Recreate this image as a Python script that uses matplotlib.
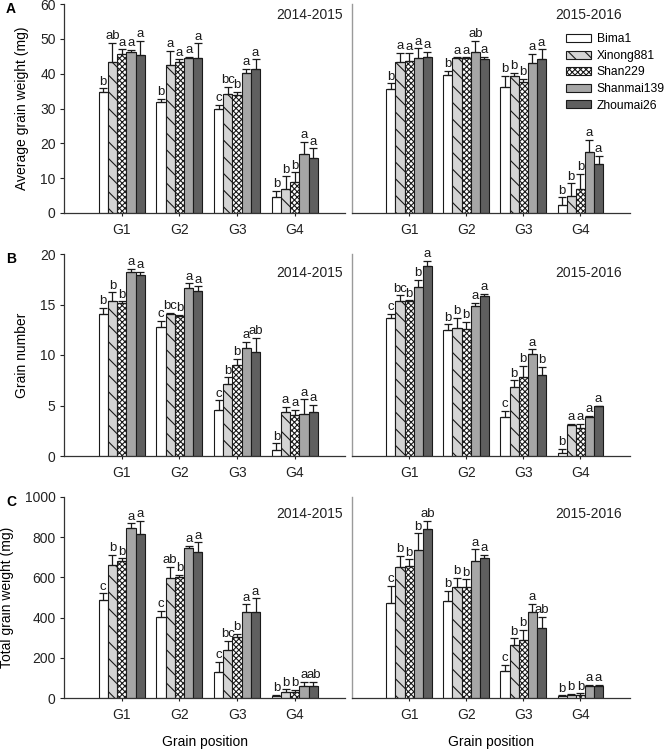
import numpy as np
import matplotlib
matplotlib.use("Agg")
import matplotlib.pyplot as plt

plt.rcParams['font.family'] = ['Liberation Sans', 'DejaVu Sans']
plt.rcParams['hatch.linewidth'] = 0.8

cultivars = ["Bima1", "Xinong881", "Shan229", "Shanmai139", "Zhoumai26"]
positions = ["G1", "G2", "G3", "G4"]
seasons = ["2014-2015", "2015-2016"]

# ---- A: average grain weight (mg); rows = cultivars, cols = G1..G4
agw_1415 = [[34.8, 31.8, 29.9, 4.5],
            [43.4, 42.5, 34.1, 7.0],
            [45.6, 43.4, 33.9, 9.0],
            [46.3, 44.6, 40.1, 16.9],
            [45.4, 44.6, 41.3, 15.7]]
agw_1415_err = [[1.0, 0.9, 1.1, 1.8],
                [5.5, 4.1, 2.2, 3.5],
                [1.4, 0.7, 0.9, 2.7],
                [0.5, 0.3, 1.2, 3.6],
                [4.1, 4.1, 2.8, 2.9]]
agw_1415_sig = [["b", "b", "c", "b"],
                ["ab", "a", "bc", "b"],
                ["a", "a", "b", "b"],
                ["a", "a", "a", "a"],
                ["a", "a", "a", "a"]]
agw_1516 = [[35.5, 39.6, 36.3, 2.3],
            [43.4, 44.4, 39.3, 5.0],
            [43.7, 44.4, 37.7, 7.0],
            [44.4, 46.1, 43.2, 17.5],
            [44.9, 44.1, 44.1, 14.0]]
agw_1516_err = [[1.7, 1.2, 3.0, 2.2],
                [2.6, 0.3, 1.0, 3.5],
                [2.1, 0.3, 0.8, 4.2],
                [2.9, 3.4, 2.4, 3.5],
                [1.4, 0.8, 2.9, 2.4]]
agw_1516_sig = [["b", "b", "b", "b"],
                ["a", "a", "b", "b"],
                ["a", "a", "b", "b"],
                ["a", "ab", "a", "a"],
                ["a", "a", "a", "a"]]

# ---- B: grain number
gn_1415 = [[14.1, 12.8, 4.6, 0.6],
           [15.3, 14.1, 7.1, 4.4],
           [15.1, 13.9, 9.0, 4.1],
           [18.2, 16.6, 10.7, 4.2],
           [17.9, 16.3, 10.3, 4.4]]
gn_1415_err = [[0.6, 0.6, 0.9, 0.65],
               [0.9, 0.1, 0.7, 0.5],
               [0.2, 0.1, 0.6, 0.5],
               [0.3, 0.5, 0.6, 1.4],
               [0.3, 0.5, 1.4, 0.65]]
gn_1415_sig = [["b", "c", "c", "b"],
               ["b", "bc", "b", "a"],
               ["b", "b", "b", "a"],
               ["a", "a", "a", "a"],
               ["a", "a", "ab", "a"]]
gn_1516 = [[13.7, 12.5, 3.9, 0.3],
           [15.3, 12.7, 6.8, 3.1],
           [15.3, 12.6, 7.85, 2.8],
           [16.7, 14.85, 10.1, 3.9],
           [18.8, 15.8, 8.0, 4.95]]
gn_1516_err = [[0.4, 0.55, 0.6, 0.4],
               [0.6, 1.0, 0.7, 0.05],
               [0.1, 0.65, 1.05, 0.4],
               [0.75, 0.3, 0.45, 0.05],
               [0.5, 0.25, 0.8, 0.05]]
gn_1516_sig = [["c", "b", "c", "b"],
               ["bc", "b", "b", "a"],
               ["b", "b", "b", "a"],
               ["b", "a", "a", "a"],
               ["a", "a", "b", "a"]]

# ---- C: total grain weight (mg)
tgw_1415 = [[487, 405, 131, 12],
            [662, 599, 239, 32],
            [683, 602, 302, 32],
            [844, 745, 426, 62],
            [814, 728, 426, 62]]
tgw_1415_err = [[34, 30, 50, 5],
                [50, 53, 47, 11],
                [12, 12, 17, 10],
                [25, 12, 40, 20],
                [67, 47, 70, 20]]
tgw_1415_sig = [["c", "c", "c", "b"],
                ["b", "ab", "bc", "b"],
                ["b", "b", "b", "b"],
                ["a", "a", "a", "a"],
                ["a", "a", "a", "ab"]]
tgw_1516 = [[474, 484, 136, 8],
            [653, 554, 264, 14],
            [657, 554, 289, 15],
            [736, 683, 429, 62],
            [839, 695, 347, 62]]
tgw_1516_err = [[83, 48, 28, 5],
                [53, 45, 33, 6],
                [33, 37, 50, 8],
                [83, 56, 38, 3],
                [43, 16, 58, 2]]
tgw_1516_sig = [["c", "b", "c", "b"],
                ["b", "b", "b", "b"],
                ["b", "b", "b", "b"],
                ["b", "a", "a", "a"],
                ["ab", "a", "ab", "a"]]

ylabels = ["Average grain weight (mg)", "Grain number", "Total grain weight (mg)"]
yticks_list = [[0, 10, 20, 30, 40, 50, 60], [0, 5, 10, 15, 20], [0, 200, 400, 600, 800, 1000]]
panel_letters = ["A", "B", "C"]

# styles
facecolors = ["white", "#d4d4d4", "white", "#a6a6a6", "#5f5f5f"]
hatches = [None, "\\\\", "xxxxxx", None, None]

W, H = 667, 753
fig = plt.figure(figsize=(W / 100, H / 100), dpi=100)

def rect(x0, x1, yt, yb):
    return [x0 / W, 1 - yb / H, (x1 - x0) / W, (yb - yt) / H]

rows_px = [(4, 213), (254, 456), (497, 698)]
cols_px = [(64, 345), (352, 630)]
year_pos = [[(0.993, 0.945), (0.972, 0.945)],
            [(0.993, 0.905), (0.972, 0.905)],
            [(0.993, 0.915), (0.972, 0.915)]]

data = [[(agw_1415, agw_1415_err, agw_1415_sig), (agw_1516, agw_1516_err, agw_1516_sig)],
        [(gn_1415, gn_1415_err, gn_1415_sig), (gn_1516, gn_1516_err, gn_1516_sig)],
        [(tgw_1415, tgw_1415_err, tgw_1415_sig), (tgw_1516, tgw_1516_err, tgw_1516_sig)]]

bw = 0.16
x = np.arange(len(positions))
legend_handles = None
for r in range(3):
    yt, yb = rows_px[r]
    for c in range(2):
        x0, x1 = cols_px[c]
        ax = fig.add_axes(rect(x0, x1, yt, yb))
        vals, errs, sigs = data[r][c]
        handles = []
        for i in range(len(cultivars)):
            xi = x + (i - 2) * bw
            v = np.array(vals[i], dtype=float)
            e = np.array(errs[i], dtype=float)
            b = ax.bar(xi, v, width=bw, color=facecolors[i], edgecolor="#1a1a1a",
                       linewidth=0.8, hatch=hatches[i], zorder=2)
            handles.append(b)
            ax.errorbar(xi, v, yerr=[np.zeros_like(e), e], fmt="none", ecolor="#1a1a1a",
                        elinewidth=0.9, capsize=3, capthick=0.9, zorder=3)
            for xx, vv, ee, s in zip(xi, v, e, sigs[i]):
                ax.annotate(s, (xx, vv + ee), xytext=(0, 0.5), textcoords="offset points",
                            ha="center", va="bottom", fontsize=9.5, color="#1a1a1a")
        if legend_handles is None:
            legend_handles = handles
        ax.set_xlim(-1.0, 3.87)
        ymax = yticks_list[r][-1]
        ax.set_ylim(0, ymax)
        ax.set_xticks(x)
        ax.set_xticklabels(positions, fontsize=10)
        ax.tick_params(axis="x", length=2.5, width=0.8, pad=5, colors="#222222")
        ax.spines["top"].set_visible(False)
        ax.spines["right"].set_visible(False)
        ax.spines["bottom"].set_color("#333333")
        ax.spines["bottom"].set_linewidth(0.9)
        if c == 0:
            ax.set_yticks(yticks_list[r])
            ax.set_yticklabels([str(t) for t in yticks_list[r]], fontsize=10)
            ax.tick_params(axis="y", length=3, width=0.8, pad=3, colors="#222222")
            ax.spines["left"].set_color("#333333")
            ax.spines["left"].set_linewidth(0.9)
            ax.set_ylabel(ylabels[r], fontsize=10, labelpad=8)
        else:
            ax.set_yticks([])
            ax.spines["left"].set_color("#9a9a9a")
            ax.spines["left"].set_linewidth(1.0)
        if r == 2:
            ax.set_xlabel("Grain position", fontsize=10, labelpad=9)
        yx, yy = year_pos[r][c]
        ax.text(yx, yy, seasons[c], transform=ax.transAxes, ha="right", va="center",
                fontsize=10, color="#222222")
        if r == 0 and c == 1:
            ax.legend(legend_handles, cultivars, loc="upper left", bbox_to_anchor=(0.77, 0.86),
                      frameon=False, fontsize=8.7, handlelength=2.1, handleheight=0.65,
                      handletextpad=0.45, labelspacing=0.38, borderpad=0, borderaxespad=0)
    fig.text(6 / W, 1 - (yt - 2) / H, panel_letters[r], fontsize=10, fontweight="bold",
             ha="left", va="top")

fig.savefig("out.png", dpi=100)
